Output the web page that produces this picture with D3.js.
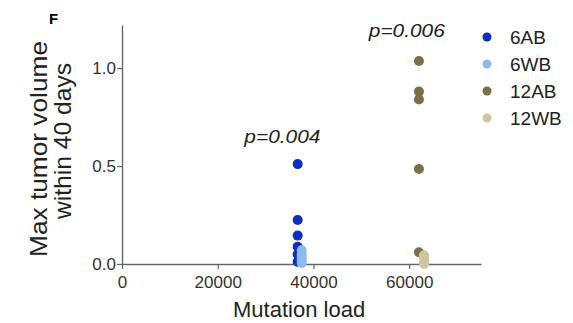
<!DOCTYPE html>
<html>
<head>
<meta charset="utf-8">
<script src="https://cdn.jsdelivr.net/npm/d3@7"></script>
<style>
  body { margin: 0; background: #fff; }
  svg { display: block; font-family: "Liberation Sans", Arial, sans-serif; }
</style>
</head>
<body>
<div class="chart"></div>
<script>
// Chart dimensions
const width = 573;
const height = 323;
const margin = { top: 25, right: 92, bottom: 59, left: 122 };

// Data
const groups = ['6AB', '6WB', '12AB', '12WB'];
const groupColors = ['#0b2fc2', '#8dbaf0', '#77704a', '#cdc69f'];
const loads = [36700, 37540, 62040, 63090];
const volumes6AB = [0.51, 0.225, 0.145, 0.088, 0.05, 0.012];
const volumes6WB = [0.07, 0.05, 0.035, 0.02, 0.005];
const volumes12AB = [1.036, 0.88, 0.84, 0.485, 0.06];
const volumes12WB = [0.045, 0.025, 0.01, 0.0];
const xTicks = [0, 20000, 40000, 60000];
const yTicks = [0.0, 0.5, 1.0];
const pValues = [
  { text: 'p=0.004', x: 33500, y: 0.62 },
  { text: 'p=0.006', x: 59500, y: 1.16 }
];

const allVolumes = [volumes6AB, volumes6WB, volumes12AB, volumes12WB];
const points = [];
allVolumes.forEach((vals, i) => {
  vals.forEach(v => points.push({ group: groups[i], load: loads[i], vol: v }));
});

const svg = d3.select('.chart')
  .append('svg')
  .attr('width', width)
  .attr('height', height);

// Scales
const x = d3.scaleLinear()
  .domain([0, 75000])
  .range([margin.left, width - margin.right]);

const y = d3.scaleLinear()
  .domain([0, 1.22])
  .range([height - margin.bottom, margin.top]);

const color = d3.scaleOrdinal().domain(groups).range(groupColors);

// Axes
const xAxis = svg.append('g')
  .attr('transform', `translate(0, ${y(0)})`)
  .call(d3.axisBottom(x).tickValues(xTicks).tickFormat(d3.format('d')).tickSize(5).tickSizeOuter(0));

const yAxis = svg.append('g')
  .attr('transform', `translate(${x(0)}, 0)`)
  .call(d3.axisLeft(y).tickValues(yTicks).tickFormat(d3.format('.1f')).tickSize(5).tickSizeOuter(0));

[xAxis, yAxis].forEach(g => {
  g.select('.domain').attr('stroke', '#666').attr('stroke-width', 1.4);
  g.selectAll('.tick line').attr('stroke', '#666').attr('stroke-width', 1.2);
  g.selectAll('.tick text')
    .attr('fill', '#333')
    .style('font-size', '17px')
    .style('font-family', '"Liberation Sans", Arial, sans-serif');
});
xAxis.selectAll('.tick text').attr('dy', '0.95em');
yAxis.selectAll('.tick text').attr('x', -6);

// Axis titles
svg.append('text')
  .attr('x', x(37000))
  .attr('y', 317)
  .attr('text-anchor', 'middle')
  .attr('fill', '#222')
  .style('font-size', '22px')
  .text('Mutation load');

const yTitle = svg.append('text')
  .attr('transform', 'translate(0, 149) rotate(-90)')
  .attr('text-anchor', 'middle')
  .attr('fill', '#222')
  .style('font-size', '24px');
yTitle.append('tspan')
  .attr('x', 0).attr('y', 47)
  .attr('textLength', 216).attr('lengthAdjust', 'spacingAndGlyphs')
  .text('Max tumor volume');
yTitle.append('tspan')
  .attr('x', 8).attr('y', 71)
  .attr('textLength', 156).attr('lengthAdjust', 'spacingAndGlyphs')
  .text('within 40 days');

// Panel letter
svg.append('text')
  .attr('x', 49)
  .attr('y', 24)
  .style('font-size', '15px')
  .style('font-weight', 'bold')
  .text('F');

// Points
svg.append('g')
  .selectAll('circle')
  .data(points)
  .join('circle')
    .attr('cx', d => x(d.load))
    .attr('cy', d => y(d.vol))
    .attr('r', 5)
    .attr('fill', d => color(d.group));

// p-values
svg.append('g')
  .selectAll('text')
  .data(pValues)
  .join('text')
    .attr('x', d => x(d.x))
    .attr('y', d => y(d.y))
    .attr('text-anchor', 'middle')
    .attr('fill', '#222')
    .style('font-size', '19px')
    .style('font-style', 'italic')
    .attr('textLength', 76)
    .attr('lengthAdjust', 'spacingAndGlyphs')
    .text(d => d.text);

// Legend
const legend = svg.append('g')
  .selectAll('g')
  .data(groups)
  .join('g')
    .attr('transform', (d, i) => `translate(487, ${37 + i * 27})`);

legend.append('circle')
  .attr('r', 4.5)
  .attr('fill', d => color(d));

legend.append('text')
  .attr('x', 23)
  .attr('dy', '0.36em')
  .attr('fill', '#222')
  .style('font-size', '19px')
  .text(d => d);
</script>
</body>
</html>
